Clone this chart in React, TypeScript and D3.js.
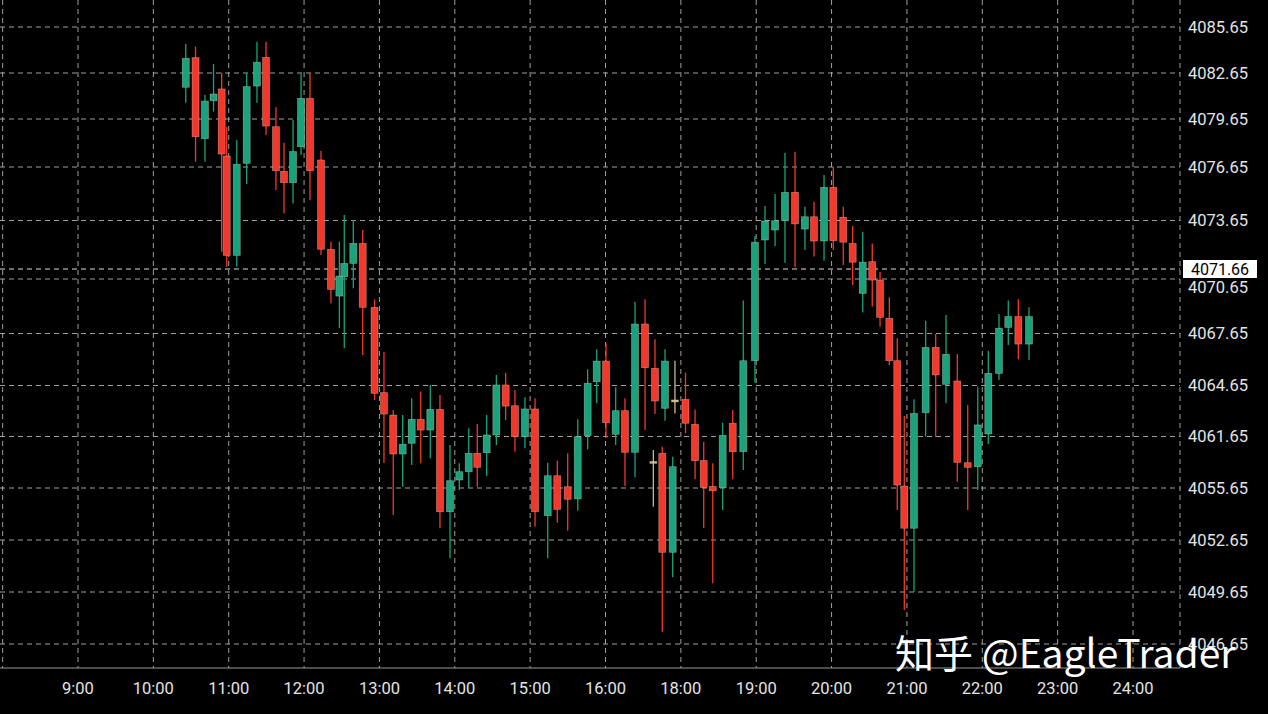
import React from 'react';
import * as d3 from 'd3';

const W = 1268;
const H = 714;

const timeLabels = ['9:00', '10:00', '11:00', '12:00', '13:00', '14:00', '15:00', '16:00', '18:00', '19:00', '20:00', '21:00', '22:00', '23:00', '24:00'];
const priceTicks = [4085.65, 4082.65, 4079.65, 4076.65, 4073.65, 4070.65, 4067.65, 4064.65, 4061.65, 4055.65, 4052.65, 4049.65, 4046.65];
const lastPrice = 4071.66;
const watermark = '知乎 @EagleTrader';

// minutes after the 9:00 gridline (axis time)
const minutes = [85.8, 93.6, 101.1, 107.9, 114.4, 118.4, 126.4, 134.3, 142.5, 149.7, 157.6, 164.0, 171.2, 177.6, 184.7, 193.5, 201.4, 208.1, 212.0, 219.2, 226.7, 236.1, 243.6, 251.0, 258.5, 265.7, 272.9, 280.5, 288.2, 296.2, 303.6, 311.1, 317.9, 325.4, 333.1, 340.5, 347.9, 355.9, 363.9, 374.0, 381.6, 389.9, 397.9, 405.8, 413.0, 420.4, 428.1, 435.5, 443.5, 451.5, 458.1, 459.4, 465.2, 467.4, 473.5, 475.3, 483.7, 491.3, 498.2, 505.4, 513.3, 521.3, 529.7, 539.0, 547.0, 555.0, 562.9, 570.9, 578.8, 586.0, 594.0, 601.4, 609.3, 616.8, 624.8, 632.4, 638.6, 646.0, 652.3, 657.9, 665.6, 674.9, 682.9, 691.1, 700.1, 708.4, 716.4, 724.8, 733.3, 740.7, 748.7, 757.2];
const open = [4081.72, 4083.65, 4078.42, 4080.84, 4081.61, 4077.34, 4072.22, 4076.88, 4081.80, 4083.67, 4079.17, 4076.41, 4075.77, 4077.92, 4081.00, 4077.09, 4072.47, 4069.71, 4070.88, 4071.89, 4072.71, 4069.09, 4064.23, 4062.91, 4059.61, 4060.86, 4062.66, 4062.03, 4063.25, 4054.28, 4056.58, 4057.55, 4059.69, 4059.76, 4061.74, 4064.68, 4063.46, 4061.63, 4063.27, 4054.05, 4057.08, 4055.80, 4055.02, 4061.70, 4064.87, 4066.06, 4061.78, 4063.17, 4059.81, 4068.17, 4058.75, 4065.64, 4059.69, 4063.31, 4051.94, 4063.80, 4063.84, 4062.37, 4058.85, 4055.83, 4055.69, 4062.43, 4059.88, 4066.08, 4072.85, 4073.26, 4073.64, 4075.23, 4073.30, 4073.86, 4072.81, 4075.51, 4073.83, 4072.71, 4069.86, 4071.96, 4070.59, 4068.49, 4066.08, 4055.88, 4053.33, 4063.05, 4066.85, 4064.72, 4064.91, 4058.60, 4058.13, 4061.80, 4065.35, 4067.99, 4068.58, 4067.04];
const high = [4084.54, 4084.37, 4081.22, 4083.24, 4082.67, 4079.17, 4078.34, 4082.63, 4084.69, 4084.69, 4080.41, 4078.17, 4079.59, 4082.63, 4082.67, 4077.67, 4072.78, 4072.78, 4073.96, 4073.68, 4073.26, 4069.53, 4066.60, 4063.21, 4062.91, 4063.90, 4064.29, 4064.68, 4064.09, 4060.66, 4058.53, 4062.13, 4062.39, 4062.91, 4065.26, 4065.39, 4064.39, 4063.96, 4063.90, 4058.60, 4058.83, 4059.69, 4062.66, 4065.59, 4066.74, 4067.09, 4064.54, 4063.90, 4069.40, 4069.53, 4060.08, 4067.32, 4060.46, 4066.74, 4059.30, 4066.08, 4065.39, 4063.24, 4061.04, 4058.53, 4062.46, 4063.21, 4069.46, 4073.01, 4074.46, 4075.14, 4077.54, 4077.61, 4074.42, 4074.70, 4076.20, 4076.65, 4074.42, 4073.42, 4073.19, 4072.71, 4071.36, 4069.64, 4067.37, 4062.86, 4063.84, 4068.35, 4067.62, 4068.67, 4066.47, 4063.50, 4064.58, 4066.66, 4068.72, 4069.46, 4069.53, 4069.09];
const low = [4080.71, 4076.98, 4076.98, 4080.13, 4072.37, 4071.75, 4071.75, 4075.70, 4080.71, 4078.65, 4075.36, 4074.05, 4074.61, 4077.40, 4074.80, 4072.23, 4069.31, 4067.94, 4066.80, 4070.14, 4066.41, 4063.80, 4058.56, 4054.09, 4055.80, 4058.33, 4058.53, 4059.11, 4053.33, 4051.59, 4055.53, 4055.63, 4055.80, 4057.05, 4060.66, 4062.62, 4059.88, 4060.28, 4053.42, 4051.59, 4053.65, 4053.19, 4054.34, 4060.16, 4063.60, 4061.44, 4060.66, 4055.88, 4056.90, 4062.03, 4054.57, 4062.97, 4047.36, 4062.58, 4050.50, 4063.01, 4061.84, 4056.66, 4053.34, 4050.15, 4054.38, 4056.66, 4057.75, 4064.81, 4071.87, 4072.60, 4071.92, 4071.73, 4072.44, 4072.17, 4072.00, 4072.44, 4071.82, 4070.32, 4068.80, 4069.13, 4068.02, 4065.83, 4054.38, 4048.61, 4049.67, 4061.63, 4061.63, 4063.60, 4056.38, 4054.38, 4055.53, 4060.78, 4064.97, 4066.99, 4066.16, 4066.12];
const close = [4083.61, 4078.54, 4080.82, 4081.28, 4077.46, 4072.22, 4076.82, 4081.76, 4083.35, 4079.21, 4076.44, 4075.77, 4077.61, 4081.00, 4076.44, 4072.47, 4070.08, 4070.95, 4071.89, 4072.71, 4069.09, 4064.19, 4062.97, 4059.61, 4060.74, 4062.66, 4062.03, 4063.25, 4054.28, 4056.50, 4057.55, 4059.69, 4058.06, 4061.74, 4064.68, 4063.44, 4061.63, 4063.27, 4054.28, 4057.08, 4054.42, 4055.00, 4061.63, 4064.78, 4066.06, 4062.46, 4063.17, 4059.81, 4068.17, 4065.68, 4058.75, 4063.74, 4051.94, 4066.06, 4058.13, 4063.80, 4062.43, 4058.83, 4055.71, 4055.49, 4061.72, 4059.88, 4066.08, 4072.76, 4073.63, 4073.64, 4075.23, 4073.51, 4073.86, 4072.81, 4075.51, 4072.82, 4072.76, 4071.94, 4071.94, 4070.59, 4068.54, 4066.08, 4056.00, 4053.33, 4063.01, 4066.85, 4065.26, 4066.45, 4058.64, 4058.06, 4062.33, 4065.35, 4067.94, 4068.58, 4067.04, 4068.58];

const UP = '#19a27b';
const DOWN = '#f2382b';
const DOJI = '#c9b98a';
const GRID = '#bdbdb4';

export default function App() {
  const plotRight = 1180;
  const axisY = 668;

  const x = d3.scaleLinear().domain([0, 840]).range([78, 1133]);
  const y = d3
    .scaleLinear()
    .domain([4085.65, 4082.65, 4079.65, 4076.65, 4073.65, lastPrice, 4070.65, 4067.65, 4064.65, 4061.65, 4055.65, 4052.65, 4049.65, 4046.65])
    .range([27, 73, 119, 167, 220.5, 269, 279, 333.5, 385.5, 436.5, 488, 540, 592, 644]);

  const gridMinutes = d3.range(-60, 841, 60);
  const bodyW = 7;
  const candles = minutes.map((m, i) => ({ m, o: open[i], h: high[i], l: low[i], c: close[i] }));

  const priceY = y(lastPrice);

  return (
    <svg
      width={W}
      height={H}
      style={{ position: 'absolute', left: 0, top: 0, background: '#000', display: 'block' }}
      fontFamily="Roboto, 'Noto Sans', sans-serif"
    >
      <rect x={0} y={0} width={W} height={H} fill="#000" />
      {/* vertical grid */}
      {gridMinutes.map((gm) => (
        <line key={'v' + gm} x1={x(gm)} x2={x(gm)} y1={0} y2={axisY} stroke={GRID} strokeWidth={1} strokeDasharray="5,4" opacity={0.85} />
      ))}
      <line x1={plotRight} x2={plotRight} y1={0} y2={axisY} stroke={GRID} strokeWidth={1} strokeDasharray="5,4" opacity={0.85} />
      {/* horizontal grid */}
      {priceTicks.map((p) => (
        <line key={'h' + p} x1={0} x2={plotRight} y1={y(p)} y2={y(p)} stroke={GRID} strokeWidth={1} strokeDasharray="5,4" opacity={0.85} />
      ))}
      <line x1={0} x2={plotRight} y1={priceY} y2={priceY} stroke="#dcdcdc" strokeWidth={1} strokeDasharray="5,4" />
      <line x1={0} x2={plotRight} y1={axisY} y2={axisY} stroke="#9a9a9a" strokeWidth={1.2} />

      {/* candles */}
      {candles.map((d, i) => {
        const cx = x(d.m);
        const col = d.c > d.o ? UP : d.c < d.o ? DOWN : DOJI;
        const top = y(Math.max(d.o, d.c));
        const bot = y(Math.min(d.o, d.c));
        const hgt = Math.max(2, bot - top);
        return (
          <g key={i}>
            <line x1={cx} x2={cx} y1={y(d.h)} y2={y(d.l)} stroke={col} strokeWidth={1.3} />
            <rect x={cx - bodyW / 2} y={top} width={bodyW} height={hgt} fill={col} stroke="rgba(235,225,205,0.45)" strokeWidth={0.7} />
          </g>
        );
      })}

      {/* y labels */}
      {priceTicks.map((p) => {
        const py = y(p);
        const shift = Math.abs(py - priceY) < 16 ? 8 : 0;
        return (
          <text key={'yl' + p} x={1188} y={py + shift} dy="0.35em" fontSize={16.5} fill="#e4e4e4">
            {p.toFixed(2)}
          </text>
        );
      })}
      <rect x={1183} y={priceY - 9} width={74} height={18} fill="#ffffff" />
      <text x={1220} y={priceY} dy="0.36em" textAnchor="middle" fontSize={16} fill="#000">
        {lastPrice.toFixed(2)}
      </text>

      {/* x labels */}
      {timeLabels.map((t, i) => (
        <text key={t} x={x(i * 60)} y={688} dy="0.35em" textAnchor="middle" fontSize={16.5} fill="#e4e4e4">
          {t}
        </text>
      ))}

      {/* watermark */}
      <text x={895} y={668} fontSize={39} fill="#ffffff" fontFamily="'Noto Sans CJK SC', 'Noto Sans', sans-serif">
        {watermark}
      </text>
    </svg>
  );
}
